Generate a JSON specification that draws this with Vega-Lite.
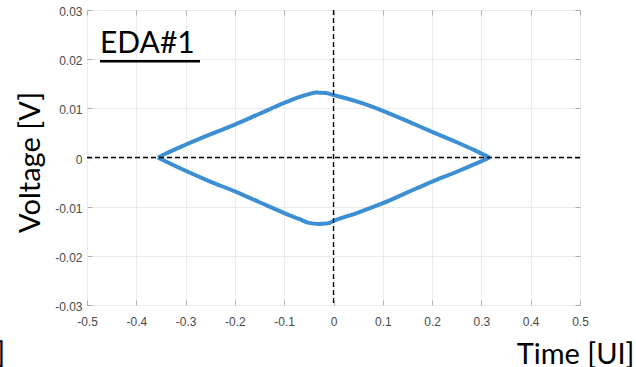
{
  "$schema": "https://vega.github.io/schema/vega-lite/v6.json",
  "width": 493,
  "height": 295,
  "autosize": {"type": "none"},
  "padding": {"left": 87, "top": 10, "right": 56, "bottom": 62},
  "background": "white",
  "config": {
    "view": {"stroke": "#bcbcbc", "strokeWidth": 1},
    "axis": {
      "labelFont": "Liberation Sans",
      "labelFontSize": 12,
      "labelColor": "#4a4a4a",
      "labelFlush": false,
      "gridColor": "#ebebeb",
      "gridWidth": 1,
      "domain": false,
      "tickColor": "#b0b0b0",
      "tickSize": -5,
      "titleFont": "Lato",
      "titleFontSize": 29,
      "titleFontWeight": "normal",
      "titleColor": "black"
    }
  },
  "datasets": {
    "eye": [
      {"t": -0.356, "v": 0.0, "branch": "upper"},
      {"t": -0.34, "v": 0.0008, "branch": "upper"},
      {"t": -0.3, "v": 0.0026, "branch": "upper"},
      {"t": -0.25, "v": 0.0047, "branch": "upper"},
      {"t": -0.2, "v": 0.0067, "branch": "upper"},
      {"t": -0.15, "v": 0.0089, "branch": "upper"},
      {"t": -0.1, "v": 0.0111, "branch": "upper"},
      {"t": -0.07, "v": 0.0123, "branch": "upper"},
      {"t": -0.05, "v": 0.0129, "branch": "upper"},
      {"t": -0.035, "v": 0.0132, "branch": "upper"},
      {"t": -0.015, "v": 0.0131, "branch": "upper"},
      {"t": 0.0, "v": 0.0127, "branch": "upper"},
      {"t": 0.05, "v": 0.0113, "branch": "upper"},
      {"t": 0.1, "v": 0.0095, "branch": "upper"},
      {"t": 0.15, "v": 0.0074, "branch": "upper"},
      {"t": 0.2, "v": 0.0052, "branch": "upper"},
      {"t": 0.25, "v": 0.0031, "branch": "upper"},
      {"t": 0.29, "v": 0.0013, "branch": "upper"},
      {"t": 0.317, "v": 0.0, "branch": "upper"},
      {"t": -0.356, "v": 0.0, "branch": "lower"},
      {"t": -0.34, "v": -0.0008, "branch": "lower"},
      {"t": -0.3, "v": -0.0027, "branch": "lower"},
      {"t": -0.25, "v": -0.0049, "branch": "lower"},
      {"t": -0.2, "v": -0.0069, "branch": "lower"},
      {"t": -0.15, "v": -0.0091, "branch": "lower"},
      {"t": -0.1, "v": -0.0113, "branch": "lower"},
      {"t": -0.07, "v": -0.0125, "branch": "lower"},
      {"t": -0.05, "v": -0.0133, "branch": "lower"},
      {"t": -0.03, "v": -0.0135, "branch": "lower"},
      {"t": -0.012, "v": -0.0134, "branch": "lower"},
      {"t": 0.0, "v": -0.0129, "branch": "lower"},
      {"t": 0.05, "v": -0.0112, "branch": "lower"},
      {"t": 0.1, "v": -0.0093, "branch": "lower"},
      {"t": 0.15, "v": -0.0071, "branch": "lower"},
      {"t": 0.2, "v": -0.0049, "branch": "lower"},
      {"t": 0.25, "v": -0.0029, "branch": "lower"},
      {"t": 0.29, "v": -0.0012, "branch": "lower"},
      {"t": 0.317, "v": 0.0, "branch": "lower"}
    ]
  },
  "resolve": {"axis": {"x": "independent", "y": "independent"}},
  "layer": [
    {
      "data": {"name": "eye"},
      "mark": {"type": "line", "color": "#3d8fd4", "strokeWidth": 4, "interpolate": "monotone"},
      "encoding": {
        "x": {
          "field": "t", "type": "quantitative",
          "scale": {"domain": [-0.5, 0.5], "nice": false, "zero": false},
          "axis": {
            "orient": "bottom",
            "values": [-0.5, -0.4, -0.3, -0.2, -0.1, 0, 0.1, 0.2, 0.3, 0.4, 0.5],
            "labelExpr": "toString(datum.value)",
            "labelPadding": 16,
            "labelBaseline": "top",
            "title": "Time [UI]",
            "titleAnchor": null,
            "titleAlign": "right",
            "titleBaseline": "alphabetic",
            "titleX": 547,
            "titleY": 58
          }
        },
        "y": {
          "field": "v", "type": "quantitative",
          "scale": {"domain": [-0.03, 0.03], "nice": false, "zero": false},
          "axis": {
            "orient": "left",
            "values": [-0.03, -0.02, -0.01, 0, 0.01, 0.02, 0.03],
            "labelExpr": "toString(datum.value)",
            "labelPadding": 10,
            "labelOffset": 1.5,
            "title": "Voltage [V]",
            "titleAnchor": null,
            "titleAngle": -90,
            "titleAlign": "center",
            "titleBaseline": "alphabetic",
            "titleX": -48,
            "titleY": 152
          }
        },
        "detail": {"field": "branch"}
      }
    },
    {
      "data": {"values": [{"label": "center"}]},
      "mark": {"type": "rule", "color": "black", "strokeWidth": 1.3, "strokeDash": [5, 3]},
      "encoding": {
        "x": {
          "datum": 0, "type": "quantitative",
          "axis": {"orient": "top", "values": [-0.5, -0.4, -0.3, -0.2, -0.1, 0, 0.1, 0.2, 0.3, 0.4, 0.5], "labels": false, "grid": false, "title": null}
        }
      }
    },
    {
      "data": {"values": [{"label": "zero"}]},
      "mark": {"type": "rule", "color": "black", "strokeWidth": 1.3, "strokeDash": [5, 3]},
      "encoding": {
        "y": {
          "datum": 0, "type": "quantitative",
          "axis": {"orient": "right", "values": [-0.03, -0.02, -0.01, 0, 0.01, 0.02, 0.03], "labels": false, "grid": false, "title": null}
        }
      }
    },
    {
      "data": {"values": [{"label": "EDA#1"}]},
      "mark": {"type": "text", "font": "Lato", "fontSize": 30, "color": "black", "align": "left", "baseline": "alphabetic"},
      "encoding": {
        "text": {"field": "label"},
        "x": {"datum": -0.4736, "type": "quantitative", "axis": null},
        "y": {"datum": 0.02126, "type": "quantitative", "axis": null}
      }
    },
    {
      "data": {"values": [{"label": "underline"}]},
      "mark": {"type": "rule", "color": "black", "strokeWidth": 2.5},
      "encoding": {
        "x": {"datum": -0.4736, "type": "quantitative", "axis": null},
        "x2": {"datum": -0.2708},
        "y": {"datum": 0.0196, "type": "quantitative", "axis": null}
      }
    },
    {
      "data": {"values": [{"label": "]"}]},
      "mark": {"type": "text", "font": "Lato", "fontSize": 29, "color": "black", "align": "right", "baseline": "alphabetic"},
      "encoding": {
        "text": {"field": "label"},
        "x": {"datum": -0.6663, "type": "quantitative", "axis": null},
        "y": {"datum": -0.0418, "type": "quantitative", "axis": null}
      }
    }
  ]
}
